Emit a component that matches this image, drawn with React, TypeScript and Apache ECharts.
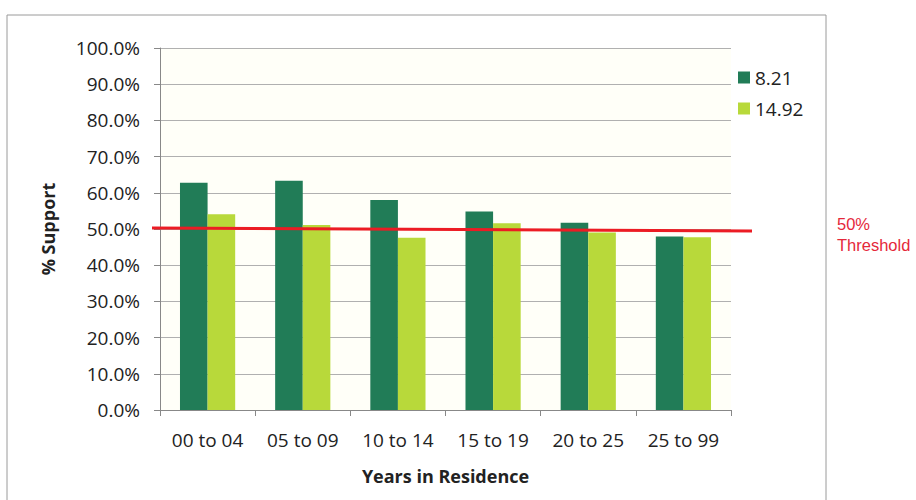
import React, { useEffect, useRef } from "react";
import * as echarts from "echarts";

const categories = ["00 to 04", "05 to 09", "10 to 14", "15 to 19", "20 to 25", "25 to 99"];
const seriesNames = ["8.21", "14.92"];
const support821 = [62.8, 63.3, 58.0, 54.8, 51.7, 47.9];
const support1492 = [54.1, 51.1, 47.6, 51.6, 49.0, 47.7];
const threshold = 50;
const thresholdLabel = ["50%", "Threshold"];

const DARK = "#217c57";
const LIGHT = "#b8d93a";
const FONT = "'Open Sans', Lato, sans-serif";

export default function App() {
  const ref = useRef<HTMLDivElement>(null);

  useEffect(() => {
    if (!ref.current) return;
    const chart = echarts.init(ref.current, undefined, { renderer: "svg" });
    chart.setOption({
      animation: false,
      backgroundColor: "#ffffff",
      grid: {
        left: 160,
        right: 185,
        top: 48,
        bottom: 90,
        show: true,
        backgroundColor: "#fffff8",
        borderWidth: 0,
      },
      legend: {
        orient: "vertical",
        left: 733,
        top: 63,
        itemWidth: 12,
        itemHeight: 12,
        itemGap: 12,
        icon: "rect",
        data: seriesNames,
        textStyle: { fontFamily: FONT, fontSize: 19, color: "#222" },
      },
      xAxis: {
        type: "category",
        data: categories,
        name: "Years in Residence",
        nameLocation: "middle",
        nameGap: 57,
        nameTextStyle: { fontFamily: FONT, fontSize: 18, fontWeight: "bold", color: "#222" },
        axisLine: { lineStyle: { color: "#888", width: 1 } },
        axisTick: { show: true, length: 6, lineStyle: { color: "#888" } },
        axisLabel: { fontFamily: FONT, fontSize: 19, color: "#222", margin: 20 },
      },
      yAxis: {
        type: "value",
        min: 0,
        max: 100,
        interval: 10,
        name: "% Support",
        nameLocation: "middle",
        nameGap: 103,
        nameTextStyle: { fontFamily: FONT, fontSize: 18, fontWeight: "bold", color: "#222" },
        axisLine: { show: true, lineStyle: { color: "#888", width: 1 } },
        axisTick: { show: true, length: 6, lineStyle: { color: "#888" } },
        axisLabel: {
          fontFamily: FONT,
          fontSize: 19,
          color: "#222",
          margin: 20,
          formatter: (v: number) => v.toFixed(1) + "%",
        },
        splitLine: { lineStyle: { color: "#b0b0b0", width: 1 } },
      },
      series: [
        {
          name: seriesNames[0],
          type: "bar",
          data: support821,
          itemStyle: { color: DARK },
          barGap: "0%",
          barCategoryGap: "42%",
        },
        {
          name: seriesNames[1],
          type: "bar",
          data: support1492,
          itemStyle: { color: LIGHT },
        },
      ],
    });

    // Threshold rule spans a little beyond the plot area, positioned via the value axis.
    const y = chart.convertToPixel({ yAxisIndex: 0 }, threshold) as number;
    chart.setOption({
      graphic: [
        {
          type: "rect",
          shape: { x: 7, y: 15, width: 819, height: 490 },
          style: { fill: "none", stroke: "#9a9a9a", lineWidth: 1 },
          silent: true,
          z: 0,
        },
        {
          type: "line",
          shape: { x1: 152, y1: y - 1, x2: 752, y2: y + 2 },
          style: { stroke: "#ec1c24", lineWidth: 3 },
          z: 10,
        },
        {
          type: "text",
          left: 837,
          top: y - 16,
          style: {
            text: thresholdLabel.join("\n"),
            fill: "#e5283a",
            font: "16.5px 'Liberation Sans', Arial, sans-serif",
            lineHeight: 21,
          },
        },
      ],
    });

    return () => chart.dispose();
  }, []);

  return (
    <div
      ref={ref}
      style={{ position: "fixed", left: 0, top: 0, width: 916, height: 500 }}
    />
  );
}
